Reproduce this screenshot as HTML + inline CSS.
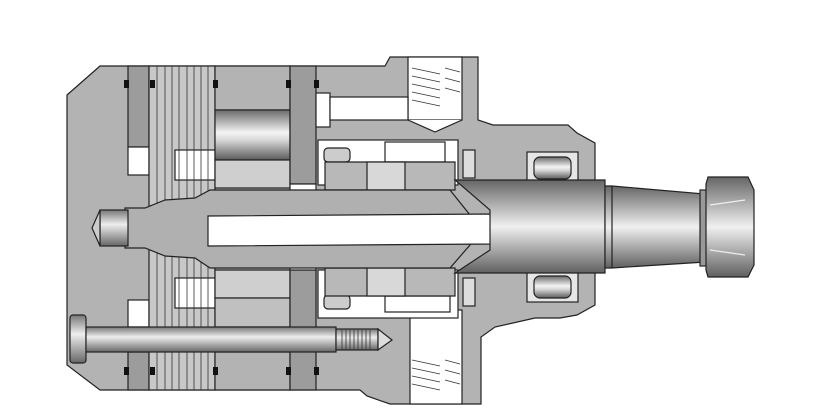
<!DOCTYPE html>
<html><head><style>html,body{margin:0;padding:0;background:#fff}svg{display:block}</style></head>
<body>
<svg width="826" height="409" viewBox="0 0 826 409" xmlns="http://www.w3.org/2000/svg">
<defs>
<linearGradient id="cyl" x1="0" y1="0" x2="0" y2="1">
<stop offset="0" stop-color="#6a6a6a"/><stop offset="0.45" stop-color="#f4f4f4"/><stop offset="0.6" stop-color="#d8d8d8"/><stop offset="1" stop-color="#5a5a5a"/></linearGradient>
<linearGradient id="shaft" x1="0" y1="0" x2="0" y2="1">
<stop offset="0" stop-color="#666"/><stop offset="0.5" stop-color="#f0f0f0"/><stop offset="1" stop-color="#606060"/></linearGradient>
<linearGradient id="bolt" x1="0" y1="0" x2="0" y2="1">
<stop offset="0" stop-color="#777"/><stop offset="0.4" stop-color="#eee"/><stop offset="1" stop-color="#666"/></linearGradient>
</defs>
<g stroke="#222" stroke-width="1.2">
<path d="M67,95 L100,66 L385,66 L390,57 L478,57 L478,120 L493,125 L568,125 L577,133 L595,143 L595,305 L577,315 L560,318 L535,318 L495,327 L481,337 L481,404 L390,404 L367,396 L360,390 L100,390 L67,365 Z" fill="#b3b3b3"/>
<rect x="408" y="57" width="54" height="63" fill="#fff"/>
<path d="M408,120 L435,132 L462,120" fill="#fff"/>
<rect x="410" y="310" width="52" height="94" fill="#fff"/>
<rect x="128" y="66" width="21" height="81" fill="#9c9c9c"/>
<rect x="128" y="147" width="21" height="28" fill="#fff"/>
<rect x="128" y="300" width="21" height="27" fill="#fff"/>
<rect x="128" y="352" width="21" height="38" fill="#9c9c9c"/>
<rect x="149" y="66" width="66" height="324" fill="#c8c8c8"/>
<rect x="175" y="150" width="40" height="30" fill="#fff"/>
<rect x="175" y="278" width="40" height="30" fill="#fff"/>
<rect x="215" y="66" width="75" height="44" fill="#b3b3b3"/>
<rect x="215" y="110" width="75" height="50" fill="url(#cyl)"/>
<rect x="215" y="160" width="75" height="28" fill="#cfcfcf"/>
<rect x="215" y="270" width="75" height="28" fill="#cfcfcf"/>
<rect x="215" y="298" width="75" height="29" fill="#c0c0c0"/>
<rect x="215" y="352" width="75" height="38" fill="#b3b3b3"/>
<rect x="290" y="66" width="26" height="118" fill="#9c9c9c"/>
<rect x="290" y="270" width="26" height="120" fill="#9c9c9c"/>
<rect x="290" y="184" width="26" height="86" fill="#fff"/>
<rect x="316" y="93" width="14" height="34" fill="#fff"/>
<rect x="330" y="97" width="78" height="23" fill="#fff"/>
<rect x="318" y="140" width="140" height="45" fill="#fff"/>
<rect x="318" y="270" width="140" height="48" fill="#fff"/>
<rect x="385" y="296" width="65" height="16" fill="#fff"/>
<rect x="324" y="148" width="26" height="14" rx="4" fill="#ccc"/>
<rect x="324" y="295" width="26" height="14" rx="4" fill="#ccc"/>
<rect x="385" y="142" width="60" height="20" fill="#fff"/>
<path d="M325,162 L455,162 L455,190 L325,190 Z" fill="#b8b8b8"/>
<path d="M325,268 L455,268 L455,296 L325,296 Z" fill="#b8b8b8"/>
<rect x="367" y="162" width="38" height="28" fill="#d8d8d8"/>
<rect x="367" y="268" width="38" height="28" fill="#d8d8d8"/>
<rect x="527" y="152" width="51" height="30" fill="#e6e6e6"/>
<rect x="534" y="157" width="37" height="22" rx="6" fill="url(#cyl)"/>
<rect x="527" y="272" width="51" height="30" fill="#e6e6e6"/>
<rect x="534" y="276" width="37" height="22" rx="6" fill="url(#cyl)"/>
<rect x="463" y="150" width="12" height="28" fill="#ddd"/>
<rect x="463" y="278" width="12" height="28" fill="#ddd"/>
</g>
<g stroke="#333" stroke-width="0.8" fill="none">
<path d="M157,66V390M165,66V390M172,66V390M179,66V390M187,66V390M194,66V390M201,66V390M208,66V390"/>
</g>
<g stroke="#222" stroke-width="1.2">
<path d="M125,208 L145,208 L165,200 L195,198 L210,190 L450,190 L470,215 L470,245 L450,268 L210,268 L195,258 L165,256 L145,248 L125,248 Z" fill="#b0b0b0"/>
<path d="M208,216 L493,214 L493,244 L208,246 Z" fill="#fff"/>
<path d="M455,180 L605,180 L605,273 L455,273 L490,250 L490,210 Z" fill="url(#shaft)"/>
<path d="M605,186 L612,186 L705,194 L705,262 L612,268 L605,268 Z" fill="url(#shaft)"/>
<line x1="612" y1="186" x2="612" y2="268"/>
<rect x="700" y="190" width="10" height="76" fill="#999"/>
<path d="M708,177 L748,177 L754,190 L754,265 L748,277 L708,277 L706,270 L706,184 Z" fill="url(#shaft)"/>
<path d="M710,205 L745,200 M710,250 L745,255" stroke="#eee"/>
<rect x="100" y="210" width="28" height="36" fill="url(#bolt)"/>
<path d="M100,210 L92,228 L100,246 Z" fill="#ccc"/>
<rect x="70" y="315" width="16" height="48" rx="3" fill="url(#bolt)"/>
<rect x="86" y="327" width="250" height="25" fill="url(#bolt)"/>
<rect x="336" y="329" width="42" height="21" fill="url(#bolt)"/>
<path d="M378,329 L392,340 L378,350 Z" fill="#ddd"/>
</g>
<g stroke="#333" stroke-width="0.8" fill="none">
<path d="M412,68L440,74M412,76L440,82M412,84L440,90M412,92L440,98M412,100L440,106M445,68L460,72M445,78L460,82M445,88L460,92"/>
<path d="M412,360L440,366M412,368L440,374M412,376L440,382M412,384L440,390M445,360L460,364M445,370L460,374M445,380L460,384"/>
<path d="M342,330V350M346,330V350M350,330V350M354,330V350M358,330V350M362,330V350M366,330V350M370,330V350"/>
</g>
<g fill="#111">
<rect x="124" y="80" width="5" height="8"/><rect x="150" y="80" width="5" height="8"/><rect x="213" y="80" width="5" height="8"/><rect x="286" y="80" width="5" height="8"/><rect x="314" y="80" width="5" height="8"/>
<rect x="124" y="367" width="5" height="8"/><rect x="150" y="367" width="5" height="8"/><rect x="213" y="367" width="5" height="8"/><rect x="286" y="367" width="5" height="8"/><rect x="314" y="367" width="5" height="8"/>
</g>
</svg>
</body></html>
